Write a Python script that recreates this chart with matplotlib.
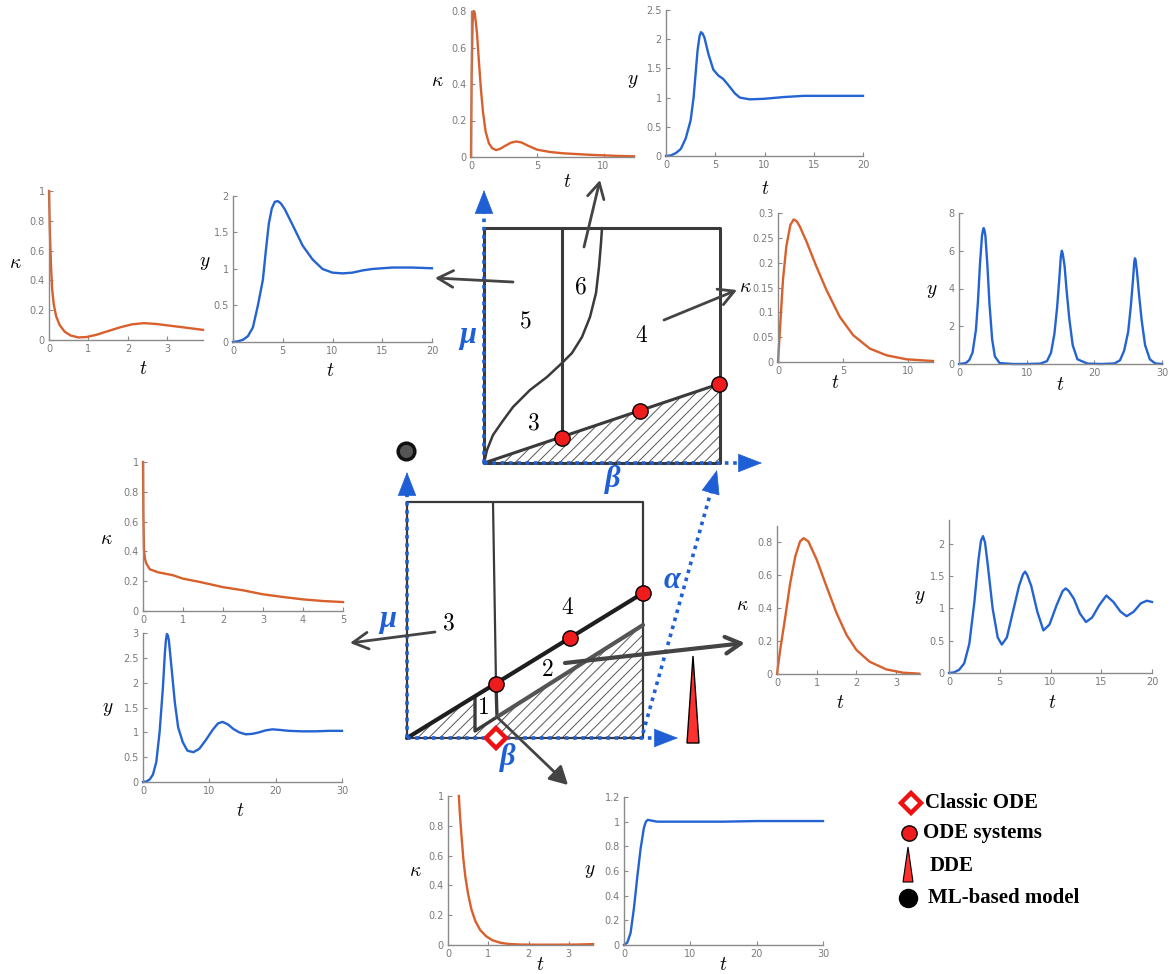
import numpy as np
import matplotlib.pyplot as plt
from matplotlib.patches import Polygon

# ---------------- curve data ----------------
# top-left pair (region 5)
t_k5 = [0, 0.02, 0.05, 0.08, 0.12, 0.18, 0.27, 0.4, 0.55, 0.75, 0.95, 1.2, 1.5, 1.8, 2.1, 2.4, 2.7, 3.0, 3.4, 3.9]
k5 = [1.0, 0.75, 0.5, 0.34, 0.24, 0.16, 0.10, 0.055, 0.03, 0.017, 0.02, 0.035, 0.06, 0.085, 0.105, 0.113, 0.108, 0.098, 0.085, 0.068]
t_y5 = [0, 0.5, 1, 1.5, 2, 2.5, 3, 3.3, 3.6, 3.9, 4.2, 4.5, 4.8, 5.2, 6, 7, 8, 9, 10, 11, 12, 13, 14, 16, 18, 20]
y5 = [0, 0.01, 0.03, 0.08, 0.2, 0.5, 0.85, 1.25, 1.62, 1.83, 1.92, 1.93, 1.9, 1.82, 1.6, 1.32, 1.13, 1.0, 0.95,
      0.94, 0.95, 0.98, 1.0, 1.02, 1.02, 1.01]

# top-middle pair (region 6)
t_k6 = [0, 0.05, 0.12, 0.16, 0.2, 0.25, 0.3, 0.45, 0.6, 0.75, 0.9, 1.1, 1.35, 1.6, 1.9, 2.2, 2.6, 3.0, 3.4, 3.8, 4.3,
        5, 6, 7, 8, 9, 10, 11, 12.3]
k6 = [0, 0.45, 0.73, 0.785, 0.8, 0.795, 0.78, 0.68, 0.52, 0.37, 0.25, 0.14, 0.075, 0.048, 0.038, 0.045, 0.062, 0.078,
      0.085, 0.08, 0.062, 0.04, 0.027, 0.02, 0.016, 0.012, 0.009, 0.006, 0.004]
t_y6 = [0, 0.5, 1, 1.5, 2, 2.5, 2.8, 3.0, 3.2, 3.4, 3.55, 3.7, 3.9, 4.3, 4.8, 5.3, 5.8, 6.3, 7, 7.5, 8.5, 10, 12, 14,
        16, 18, 20]
y6 = [0, 0.01, 0.05, 0.12, 0.3, 0.61, 1.0, 1.4, 1.8, 2.05, 2.12, 2.1, 2.03, 1.75, 1.48, 1.38, 1.32, 1.22, 1.07, 1.0,
      0.97, 0.98, 1.01, 1.03, 1.03, 1.03, 1.03]

# top-right pair (region 4, upper diagram)
t_k4 = [0, 0.13, 0.38, 0.64, 0.95, 1.2, 1.45, 1.67, 2.18, 2.95, 3.72, 4.74, 5.77, 7.05, 8.33, 9.87, 11.9]
k4 = [0, 0.057, 0.165, 0.233, 0.276, 0.287, 0.283, 0.273, 0.243, 0.192, 0.145, 0.091, 0.054, 0.027, 0.0135, 0.0054, 0.002]
t_y4 = [0, 1, 1.5, 2, 2.5, 2.8, 3.1, 3.4, 3.55, 3.65, 3.75, 3.9, 4.2, 4.5, 4.9, 5.3, 6, 8, 10, 12, 13, 13.6, 14.1,
        14.5, 14.8, 15.05, 15.2, 15.35, 15.6, 15.9, 16.3, 16.8, 17.5, 19, 21, 23, 23.8, 24.4, 25, 25.4, 25.7,
        25.9, 26.0, 26.1, 26.3, 26.6, 27, 27.5, 28.2, 29, 30]
y4 = [0, 0.05, 0.2, 0.6, 1.8, 3.3, 5.3, 6.8, 7.1, 7.2, 7.1, 6.8, 5.2, 3.2, 1.3, 0.4, 0.05, 0, 0, 0.02, 0.15, 0.6, 1.6,
      3.0, 4.4, 5.7, 6.0, 5.8, 5.2, 3.9, 2.4, 1.0, 0.25, 0.02, 0, 0.03, 0.2, 0.7, 1.7, 3.1, 4.4,
      5.4, 5.6, 5.5, 4.9, 3.7, 2.3, 1.0, 0.25, 0.03, 0]

# left pair (region 3, lower diagram)
t_k3 = [0, 0.01, 0.025, 0.05, 0.08, 0.17, 0.375, 0.75, 1, 1.42, 2, 2.5, 3, 3.5, 4, 4.5, 5]
k3 = [1, 0.63, 0.41, 0.35, 0.32, 0.28, 0.26, 0.24, 0.217, 0.195, 0.16, 0.139, 0.112, 0.094, 0.078, 0.067, 0.06]
t_y3 = [0, 0.5, 1, 1.5, 2, 2.5, 3, 3.3, 3.45, 3.6, 3.75, 3.9, 4.3, 4.8, 5.3, 6, 6.7, 7.6, 8.5, 9.5, 10.5, 11.3, 12,
        12.8, 13.6, 14.5, 15.5, 16.5, 17.5, 18.5, 19.5, 20.5, 22, 24, 26, 28, 30]
y3 = [0, 0.01, 0.05, 0.15, 0.4, 1.0, 1.9, 2.6, 2.85, 2.98, 2.95, 2.85, 2.3, 1.6, 1.1, 0.8, 0.63, 0.6, 0.67, 0.85,
      1.05, 1.18, 1.21, 1.16, 1.07, 1.0, 0.96, 0.97, 1.0, 1.04, 1.06, 1.05, 1.03, 1.02, 1.02, 1.03, 1.03]

# right pair (region 2)
t_k2 = [0, 0.08, 0.21, 0.33, 0.46, 0.58, 0.67, 0.79, 1.0, 1.25, 1.5, 1.75, 2, 2.33, 2.75, 3.17, 3.58]
k2 = [0, 0.146, 0.35, 0.55, 0.715, 0.806, 0.826, 0.806, 0.695, 0.53, 0.37, 0.238, 0.146, 0.075, 0.028, 0.008, 0.002]
t_y2 = [0, 0.5, 1, 1.5, 2, 2.5, 2.9, 3.15, 3.35, 3.55, 3.8, 4.3, 4.8, 5.2, 5.7, 6.3, 6.9, 7.3, 7.5, 7.7, 8.1, 8.7,
        9.3, 9.9, 10.6, 11.2, 11.5, 11.8, 12.3, 12.9, 13.5, 14.1, 14.8, 15.5, 16.2, 16.9, 17.5, 18.2, 18.9, 19.5, 20]
y2 = [0, 0.01, 0.05, 0.15, 0.45, 1.1, 1.75, 2.05, 2.12, 2.02, 1.7, 1.0, 0.55, 0.44, 0.55, 0.95, 1.35, 1.53, 1.57,
      1.52, 1.35, 0.95, 0.66, 0.75, 1.05, 1.27, 1.31, 1.27, 1.15, 0.92, 0.79, 0.86, 1.05, 1.2, 1.1, 0.95, 0.88,
      0.95, 1.08, 1.12, 1.1]

# bottom pair (region 1)
t_k1 = [0.27, 0.29, 0.33, 0.38, 0.43, 0.5, 0.58, 0.68, 0.8, 0.95, 1.1, 1.3, 1.5, 1.8, 2.2, 2.7, 3.2, 3.6]
k1 = [1.0, 0.9, 0.75, 0.58, 0.46, 0.34, 0.24, 0.16, 0.1, 0.058, 0.032, 0.015, 0.007, 0.003, 0.002, 0.002, 0.003, 0.006]
t_y1 = [0, 0.5, 1, 1.5, 2, 2.5, 3, 3.3, 3.6, 4, 5, 7, 10, 15, 20, 25, 30]
y1 = [0, 0.02, 0.1, 0.3, 0.55, 0.78, 0.95, 1.0, 1.015, 1.01, 1.0, 1.0, 1.0, 1.0, 1.005, 1.005, 1.005]

# ---------------- diagram geometry (pixels) ----------------
top_box = [(484, 228), (720, 228), (720, 463), (484, 463)]
top_mid = [(562, 228), (562, 438)]
top_curve = [(484, 463), (487, 450), (493, 435), (502, 422), (513, 407), (530, 390), (547, 377), (562, 363),
             (572, 353), (582, 337), (590, 317), (596, 293), (599, 267), (601, 243), (602, 228)]
top_line = [(484, 463), (719, 384)]
top_dots = [(562, 438), (640, 411), (719, 384)]
top_hatch = [(484, 463), (720, 384), (720, 463)]

low_box = [(407, 502), (643, 502), (643, 738), (407, 738)]
low_mid = [(493, 502), (496, 684)]
low_line = [(407, 738), (643, 593)]
low_gray = [(497, 717), (643, 625)]
low_dots = [(496, 684), (570, 638), (643, 593)]
low_r1 = [(475, 697), (475, 731), (497, 717), (496, 684)]
low_hatch = [(407, 738), (475, 696), (475, 731), (497, 717), (643, 625), (643, 738)]

W, H = 1171, 974
BLUE = '#1f5fd6'
ORANGE = '#d9602c'
CBLUE = '#2463d2'
GRAY = '#444444'

plt.rcParams['mathtext.fontset'] = 'cm'
plt.rcParams['hatch.linewidth'] = 0.7

fig = plt.figure(figsize=(W / 100, H / 100), dpi=100)


def px(x, y):
    return x / W, 1 - y / H


def small_plot(x0, x1, ytop, ybot, t, v, color, xlim, ylim, xticks, yticks):
    ax = fig.add_axes([x0 / W, 1 - ybot / H, (x1 - x0) / W, (ybot - ytop) / H])
    ax.plot(t, v, color=color, lw=1.7, clip_on=False, solid_joinstyle='round')
    ax.set_xlim(*xlim)
    ax.set_ylim(*ylim)
    ax.set_xticks(xticks)
    ax.set_yticks(yticks)
    ax.set_xticklabels([f'{v:g}' for v in xticks])
    ax.set_yticklabels([f'{v:g}' for v in yticks])
    for s in ['top', 'right']:
        ax.spines[s].set_visible(False)
    for s in ['left', 'bottom']:
        ax.spines[s].set_color('#8a8a8a')
        ax.spines[s].set_linewidth(1)
    ax.tick_params(direction='in', length=3, color='#8a8a8a', labelcolor='#7a7a7a', labelsize=7, pad=3)
    ax.patch.set_visible(False)
    return ax


small_plot(49, 203, 191, 340, t_k5, k5, ORANGE, (0, 3.9), (0, 1), [0, 1, 2, 3], [0, 0.2, 0.4, 0.6, 0.8, 1])
small_plot(233, 432, 196, 342, t_y5, y5, CBLUE, (0, 20), (0, 2), [0, 5, 10, 15, 20], [0, 0.5, 1, 1.5, 2])
small_plot(471, 634, 11, 157, t_k6, k6, ORANGE, (0, 12.3), (0, 0.8), [0, 5, 10], [0, 0.2, 0.4, 0.6, 0.8])
small_plot(666, 863, 10, 156, t_y6, y6, CBLUE, (0, 20), (0, 2.5), [0, 5, 10, 15, 20], [0, 0.5, 1, 1.5, 2, 2.5])
small_plot(778, 933, 213, 362, t_k4, k4, ORANGE, (0, 11.9), (0, 0.3), [0, 5, 10], [0, 0.05, 0.1, 0.15, 0.2, 0.25, 0.3])
small_plot(959, 1162, 213, 364, t_y4, y4, CBLUE, (0, 30), (0, 8), [0, 10, 20, 30], [0, 2, 4, 6, 8])
small_plot(143, 343, 462, 611, t_k3, k3, ORANGE, (0, 5), (0, 1), [0, 1, 2, 3, 4, 5], [0, 0.2, 0.4, 0.6, 0.8, 1])
small_plot(143, 342, 633, 782, t_y3, y3, CBLUE, (0, 30), (0, 3), [0, 10, 20, 30], [0, 0.5, 1, 1.5, 2, 2.5, 3])
small_plot(777, 920, 526, 674, t_k2, k2, ORANGE, (0, 3.6), (0, 0.9), [0, 1, 2, 3], [0, 0.2, 0.4, 0.6, 0.8])
small_plot(949, 1152, 520, 673, t_y2, y2, CBLUE, (0, 20), (0, 2.37), [0, 5, 10, 15, 20], [0, 0.5, 1, 1.5, 2])
small_plot(448, 593, 796, 945, t_k1, k1, ORANGE, (0, 3.6), (0, 1), [0, 1, 2, 3], [0, 0.2, 0.4, 0.6, 0.8, 1])
small_plot(624, 823, 797, 945, t_y1, y1, CBLUE, (0, 30), (0, 1.2), [0, 10, 20, 30], [0, 0.2, 0.4, 0.6, 0.8, 1, 1.2])

# axis labels of the small plots
labels = [(15, 262, r'$\kappa$'), (143, 368, '$t$'), (205, 263, '$y$'), (330, 371, '$t$'),
          (437, 80, r'$\kappa$'), (567, 182, '$t$'), (633, 80, '$y$'), (765, 189, '$t$'),
          (745, 286, r'$\kappa$'), (835, 383, '$t$'), (932, 290, '$y$'), (1060, 384, '$t$'),
          (106, 538, r'$\kappa$'), (108, 708, '$y$'), (240, 810, '$t$'),
          (742, 605, r'$\kappa$'), (840, 703, '$t$'), (920, 597, '$y$'), (1052, 702, '$t$'),
          (415, 870, r'$\kappa$'), (540, 965, '$t$'), (590, 870, '$y$'), (723, 965, '$t$')]
for x, y, s in labels:
    fig.text(*px(x, y), s, fontsize=14, ha='center', va='center')

# ---------------- overlay for the diagrams ----------------
ov = fig.add_axes([0, 0, 1, 1])
ov.set_xlim(0, W)
ov.set_ylim(H, 0)
ov.axis('off')
ov.patch.set_visible(False)


def seg(pts, **kw):
    xs, ys = zip(*pts)
    ov.plot(xs, ys, solid_capstyle='round', **kw)


def blue_axis(start, tip):
    start = np.array(start, float)
    tip = np.array(tip, float)
    d = (tip - start) / np.hypot(*(tip - start))
    tail = tip - d * 16
    ov.plot([start[0], tail[0]], [start[1], tail[1]], color=BLUE, lw=2.6, linestyle=(0, (1, 1.3)))
    ov.annotate('', xy=tuple(tip), xytext=tuple(tail),
                arrowprops=dict(arrowstyle='-|>,head_length=0.9,head_width=0.35', color=BLUE, lw=0.5,
                                shrinkA=0, shrinkB=0, mutation_scale=18))


def gray_arrow(start, tip, lw=2, style='->'):
    ov.annotate('', xy=tip, xytext=start,
                arrowprops=dict(arrowstyle=style + ',head_length=0.55,head_width=0.3', color=GRAY, lw=lw,
                                shrinkA=0, shrinkB=0, mutation_scale=20))


# upper diagram
ov.add_patch(Polygon(top_hatch, closed=True, fill=False, hatch='///', edgecolor='#555555', lw=0))
seg(top_box + [top_box[0]], color='#3a3a3a', lw=2.2)
seg(top_mid, color='#3a3a3a', lw=2.2)
seg(top_curve, color='#3a3a3a', lw=1.8)
seg(top_line, color='#3a3a3a', lw=2.2)
blue_axis((484, 463), (484, 190))
blue_axis((484, 463), (762, 463))
for x, y in top_dots:
    ov.plot(x, y, 'o', ms=11, mfc='#ee1c1c', mec='black', mew=1, zorder=5)

# lower diagram
ov.add_patch(Polygon(low_hatch, closed=True, fill=False, hatch='///', edgecolor='#555555', lw=0))
seg(low_box + [low_box[0]], color='#3a3a3a', lw=1.6)
seg(low_mid, color='#3a3a3a', lw=1.6)
seg(low_r1, color='#3a3a3a', lw=2.4)
seg(low_line, color='#1e1e1e', lw=3)
seg(low_gray, color='#555555', lw=3)
blue_axis((407, 738), (407, 472))
blue_axis((407, 738), (678, 738))
blue_axis((643, 733), (717, 470))
for x, y in low_dots:
    ov.plot(x, y, 'o', ms=11, mfc='#ee1c1c', mec='black', mew=1, zorder=5)

# special markers
ov.plot(406, 451, 'o', ms=12, mfc='#555555', mec='#111111', mew=2.5, zorder=5)
ov.plot(496, 738, 'D', ms=10, mfc='white', mec='#ee1111', mew=3.2, zorder=5)
ov.add_patch(Polygon([(687, 743), (699, 743), (693, 656)], closed=True, fc='#ff3030', ec='black', lw=1, zorder=5))

# arrows
gray_arrow((513, 282), (435, 278))
gray_arrow((584, 247), (600, 180))
gray_arrow((664, 320), (737, 290))
gray_arrow((435, 632), (350, 643))
gray_arrow((565, 663), (745, 643), lw=3)
gray_arrow((497, 717), (568, 785), style='-|>')

# region numbers
for x, y, s in [(525, 320, '5'), (580, 287, '6'), (642, 335, '4'), (533, 422, '3'),
                (448, 623, '3'), (568, 607, '4'), (547, 669, '2'), (483, 707, '1')]:
    ov.text(x, y, f'${s}$', fontsize=17, ha='center', va='center')

# parameter names
greek = dict(color=BLUE, fontsize=22, fontfamily='Liberation Serif', fontstyle='italic', fontweight='bold',
             ha='center', va='center')
ov.text(468, 335, 'μ', **greek)
ov.text(613, 479, 'β', **greek)
ov.text(388, 619, 'μ', **greek)
ov.text(508, 757, 'β', **greek)
ov.text(672, 580, 'α', **greek)

# legend
leg = dict(fontsize=15, fontfamily='Liberation Serif', fontweight='bold', ha='left', va='center')
ov.plot(911, 803, 'D', ms=10, mfc='white', mec='#ee1111', mew=3.2)
ov.text(925, 803, 'Classic ODE', **leg)
ov.plot(909, 833, 'o', ms=11, mfc='#ee1c1c', mec='black', mew=1)
ov.text(923, 833, 'ODE systems', **leg)
ov.add_patch(Polygon([(903, 882), (913, 882), (908, 847)], closed=True, fc='#ff3030', ec='black', lw=0.8))
ov.text(930, 866, 'DDE', **leg)
ov.plot(908, 898, 'o', ms=13, mfc='black', mec='black')
ov.text(928, 898, 'ML-based model', **leg)

fig.savefig('out.png', dpi=100)
